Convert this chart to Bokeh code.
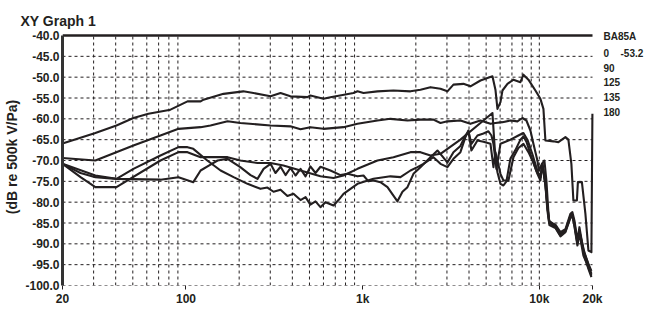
from bokeh.plotting import figure
from bokeh.models import FixedTicker, Label, PrintfTickFormatter
from bokeh.embed import file_html
from bokeh.resources import INLINE

# ---------------- data (Hz, dB re 500k V/Pa) ----------------
f_0 = [20, 30.7, 40.4, 50.4, 61.3, 81.7, 102, 121, 125.6, 163, 211, 241, 301, 343, 390, 487, 506, 600, 657, 887,
       935, 1011, 1213, 1494, 1865, 2124, 2420, 2757, 3019, 3265, 3720, 4074, 4643, 5087, 5429, 5645, 5794, 6026, 6185, 6601,
       7138, 7817, 8129, 8677, 9503, 10143, 10551, 10827, 12016, 12823, 14050, 14606, 15188, 15590, 16318, 16534, 17418, 18236, 18963, 19720,
       19975]
db_0 = [-65.9, -63.4, -61.6, -59.8, -58.8, -57.8, -55.8, -55.8, -55.4, -54.0, -53.4, -53.8, -54.6, -53.8, -54.6, -54.8, -54.4, -55.2, -54.8, -53.8,
        -53.4, -53.8, -53.4, -53.2, -53.4, -53.0, -52.4, -52.8, -53.4, -51.8, -51.6, -52.2, -50.8, -50.2, -49.8, -53.0, -57.6, -56.0, -53.2, -51.6,
        -50.6, -51.2, -49.4, -50.6, -53.2, -55.2, -57.6, -65.2, -65.4, -65.6, -64.4, -65.0, -70.8, -79.6, -79.6, -75.2, -75.2, -82.8, -91.6, -92.0,
        -58.8]

f_90 = [20, 30.7, 50.4, 71.7, 90.7, 121, 137.6, 172, 203, 301, 390, 445, 506, 600, 779, 935, 1213, 1437, 1793, 2124,
        2516, 2757, 3019, 3576, 4074, 4643, 5290, 5645, 6185, 6864, 7517, 8024, 8452, 8904, 9259, 9754, 9949, 10346, 10687, 10968,
        11331, 12331, 13163, 14050, 14997, 15393, 15800, 16431, 16865, 17992, 18963, 19720]
db_90 = [-69.4, -70.0, -66.4, -64.0, -62.4, -62.0, -61.6, -60.6, -61.0, -61.6, -61.8, -62.5, -62.0, -62.4, -62.0, -61.2, -60.4, -60.0, -60.4, -60.2,
         -60.2, -61.0, -60.6, -60.4, -61.2, -60.4, -61.2, -61.0, -60.8, -60.4, -60.6, -59.8, -60.4, -62.8, -66.0, -70.0, -72.4, -70.8, -70.0, -74.8,
         -84.4, -85.6, -87.6, -86.8, -83.2, -83.0, -85.0, -89.6, -87.0, -92.0, -95.0, -97.2]

f_125 = [20, 25.3, 30.7, 40.4, 71.7, 90.7, 102, 121, 137.6, 172, 203, 254, 301, 356, 445, 577, 684, 779, 935, 1213,
         1494, 1865, 2124, 2420, 2757, 3576, 4643, 5429, 5571, 5718, 6026, 6432, 6864, 7613, 8129, 8563, 9141, 9754, 10143, 10410,
         10827, 11112, 11406, 12331, 13163, 14050, 14997, 15393, 15800, 16431, 16865, 17763, 18963, 19720]
db_125 = [-70.8, -74.0, -76.4, -76.4, -70.0, -68.0, -68.0, -69.2, -69.2, -69.2, -70.0, -70.6, -70.6, -71.2, -72.4, -73.8, -74.2, -73.6, -72.0, -70.0,
          -69.2, -68.0, -68.0, -68.8, -68.4, -65.0, -61.0, -58.6, -66.0, -72.0, -66.0, -65.5, -65.0, -64.0, -63.4, -65.0, -68.5, -72.5, -74.0, -70.8,
          -75.6, -81.2, -84.8, -85.4, -87.2, -86.5, -82.8, -82.4, -84.4, -89.2, -86.0, -91.6, -94.8, -96.5]

f_135 = [20, 25.3, 30.7, 40.4, 50.4, 71.7, 90.7, 102, 110, 132, 157, 186, 223, 264, 289, 313, 343, 375, 406, 445,
         475, 506, 541, 577, 616, 684, 730, 779, 935, 1151, 1437, 1637, 1865, 2042, 2208, 2516, 2757, 3019, 3265, 3576,
         3817, 3969, 4127, 4465, 4828, 5290, 5500, 5645, 5794, 6026, 6263, 6686, 7138, 7613, 8129, 8677, 9259, 9754, 10143, 10410,
         10827, 11112, 11406, 12331, 13163, 14050, 14997, 15393, 15800, 16431, 16865, 17992, 18963, 19720]
db_135 = [-70.8, -73.0, -74.0, -74.4, -72.0, -68.8, -66.8, -66.8, -67.2, -70.0, -72.4, -74.0, -75.6, -76.8, -76.5, -77.5, -77.0, -78.5, -78.0, -79.5,
          -78.8, -80.6, -79.8, -81.2, -80.0, -80.8, -79.5, -78.0, -75.6, -74.4, -73.8, -74.0, -72.4, -71.6, -70.8, -69.2, -70.8, -71.6, -69.6, -68.0,
          -64.4, -62.8, -67.6, -65.2, -65.5, -66.0, -71.6, -68.0, -70.0, -73.2, -74.8, -74.8, -69.2, -67.0, -66.0, -68.0, -70.5, -73.2, -74.8, -70.8,
          -75.6, -81.0, -85.0, -86.0, -88.0, -87.0, -83.5, -83.0, -85.5, -90.0, -87.0, -93.0, -96.0, -98.0]

f_180 = [20, 30.7, 40.4, 71.7, 90.7, 110, 121, 137.6, 151, 172, 203, 232, 254, 275, 301, 321, 343, 366, 390, 417,
         445, 475, 506, 541, 577, 657, 749, 821, 935, 1011, 1078, 1151, 1261, 1382, 1574, 1680, 1793, 1939, 2124, 2420,
         2651, 2829, 3019, 3265, 3576, 3817, 3969, 4127, 4465, 4828, 5150, 5358, 5500, 5645, 5794, 6026, 6263, 6513, 6864, 7322,
         7817, 8129, 8452, 9022, 9628, 10143, 10410, 10827, 11112, 11406, 12331, 13163, 14050, 14997, 15393, 15800, 16431, 16865, 17763, 18963,
         19720]
db_180 = [-70.8, -73.6, -74.4, -74.6, -74.0, -75.2, -72.4, -71.0, -70.0, -69.6, -71.6, -73.5, -74.4, -72.0, -70.8, -73.0, -71.5, -73.5, -71.8, -73.6,
          -72.0, -73.8, -71.4, -73.0, -71.5, -72.4, -73.5, -73.2, -73.8, -73.6, -75.0, -74.8, -75.2, -76.4, -79.8, -77.5, -76.4, -73.2, -71.6, -69.2,
          -67.6, -69.0, -70.5, -68.0, -66.5, -64.0, -63.0, -66.0, -64.0, -63.5, -63.0, -64.0, -66.0, -70.0, -72.8, -75.6, -76.0, -75.0, -69.5, -67.5,
          -65.0, -64.2, -65.5, -69.2, -72.5, -74.0, -71.0, -76.0, -82.0, -85.5, -86.2, -88.2, -87.2, -83.8, -83.4, -85.8, -90.4, -87.4, -92.8, -95.6,
          -97.6]

series = [(f_0, db_0), (f_90, db_90), (f_125, db_125), (f_135, db_135), (f_180, db_180)]

title_text = "XY Graph 1"
y_label = "(dB re 500k V/Pa)"
legend_title = "BA85A"
legend_rows = ["0", "90", "125", "135", "180"]
legend_value = "-53.2"
y_ticks = list(range(-100, -39, 5))
x_ticks = [20, 100, 1000, 10000, 20000]
x_tick_labels = {20: "20", 100: "100", 1000: "1k", 10000: "10k", 20000: "20k"}
x_grid = [30, 40, 50, 60, 70, 80, 90, 200, 300, 400, 500, 600, 700, 800, 900,
          2000, 3000, 4000, 5000, 6000, 7000, 8000, 9000, 10000]
F_MIN, F_MAX = 20, 20000
DB_MIN, DB_MAX = -100, -40

# ---------------- layout ----------------
W, H = 650, 315
L, R, T, B = 62, 592, 35, 285          # pixel edges of the graph area (20 Hz..20 kHz, -40..-100 dB)
TOP = 28                               # frame top (a little above the -40 line, room for legend)
FONT = "Liberation Sans"
INK = "#231f20"
DEC_PX = (R - L) / 3.0                 # pixels per decade


def fx(px):
    return F_MIN * 10 ** ((px - L) / DEC_PX)


def fy(py):
    return DB_MAX - (DB_MAX - DB_MIN) * (py - T) / (B - T)


# frame widened to the right edge (and a bit upward) so the legend can live inside it
p = figure(width=W, height=H, x_axis_type="log", x_range=(F_MIN, fx(W)), y_range=(DB_MIN, fy(TOP)),
           output_backend="svg", toolbar_location=None,
           min_border_left=L, min_border_right=0, min_border_top=TOP, min_border_bottom=H - B)
p.outline_line_color = None
p.background_fill_color = "white"
p.xgrid.visible = False
p.ygrid.visible = False

# dashed grid lines limited to the graph area, solid top line
p.segment(x0=F_MIN, x1=F_MAX, y0=y_ticks[:-1], y1=y_ticks[:-1],
          line_color=INK, line_width=1, line_dash="3 3")
p.segment(x0=x_grid, x1=x_grid, y0=DB_MIN, y1=DB_MAX,
          line_color=INK, line_width=1, line_dash="3 3")
p.segment(x0=F_MIN, x1=F_MAX, y0=DB_MAX, y1=DB_MAX, line_color=INK, line_width=2.5)

for fx_, dy_ in series:
    p.line(fx_, dy_, line_color=INK, line_width=2.1, line_join="round")

# y axis
ya = p.yaxis[0]
ya.ticker = FixedTicker(ticks=y_ticks)
ya.bounds = (DB_MIN, DB_MAX)
ya.formatter = PrintfTickFormatter(format="%.1f")
ya.axis_line_width = 3
ya.axis_line_color = "#333333"
ya.major_tick_in = 0
ya.major_tick_out = 0
ya.minor_tick_line_color = None
ya.major_label_standoff = 3
ya.major_label_text_font = FONT
ya.major_label_text_font_style = "bold"
ya.major_label_text_font_size = "12px"
ya.major_label_text_color = INK
ya.axis_label = y_label
ya.axis_label_text_font = FONT
ya.axis_label_text_font_style = "bold"
ya.axis_label_text_font_size = "14px"
ya.axis_label_text_color = INK
ya.axis_label_standoff = 2

# x axis
xa = p.xaxis[0]
xa.ticker = FixedTicker(ticks=x_ticks)
xa.bounds = (F_MIN, F_MAX)
xa.major_label_overrides = x_tick_labels
xa.axis_line_color = None
xa.major_tick_in = 0
xa.major_tick_out = 4
xa.major_tick_line_color = INK
xa.minor_tick_line_color = None
xa.major_label_standoff = 2
xa.major_label_text_font = FONT
xa.major_label_text_font_style = "bold"
xa.major_label_text_font_size = "12px"
xa.major_label_text_color = INK

# title
p.title.text = title_text
p.title.align = "left"
p.title.offset = 20 - L
p.title.text_font = FONT
p.title.text_font_style = "bold"
p.title.text_font_size = "14px"
p.title.text_color = INK
p.title.standoff = 0


def add_text(txt, px, py, size="10px"):
    p.add_layout(Label(x=fx(px), y=fy(py), text=txt, text_font=FONT, text_font_style="bold",
                       text_font_size=size, text_color=INK, text_baseline="middle", text_align="left"))


add_text(legend_title, 603, 36)
for lab, yy in zip(legend_rows, [52, 67, 81, 96, 111]):
    add_text(lab, 603, yy)
add_text(legend_value, 620, 52)

open("out.html", "w").write(file_html(p, INLINE))
